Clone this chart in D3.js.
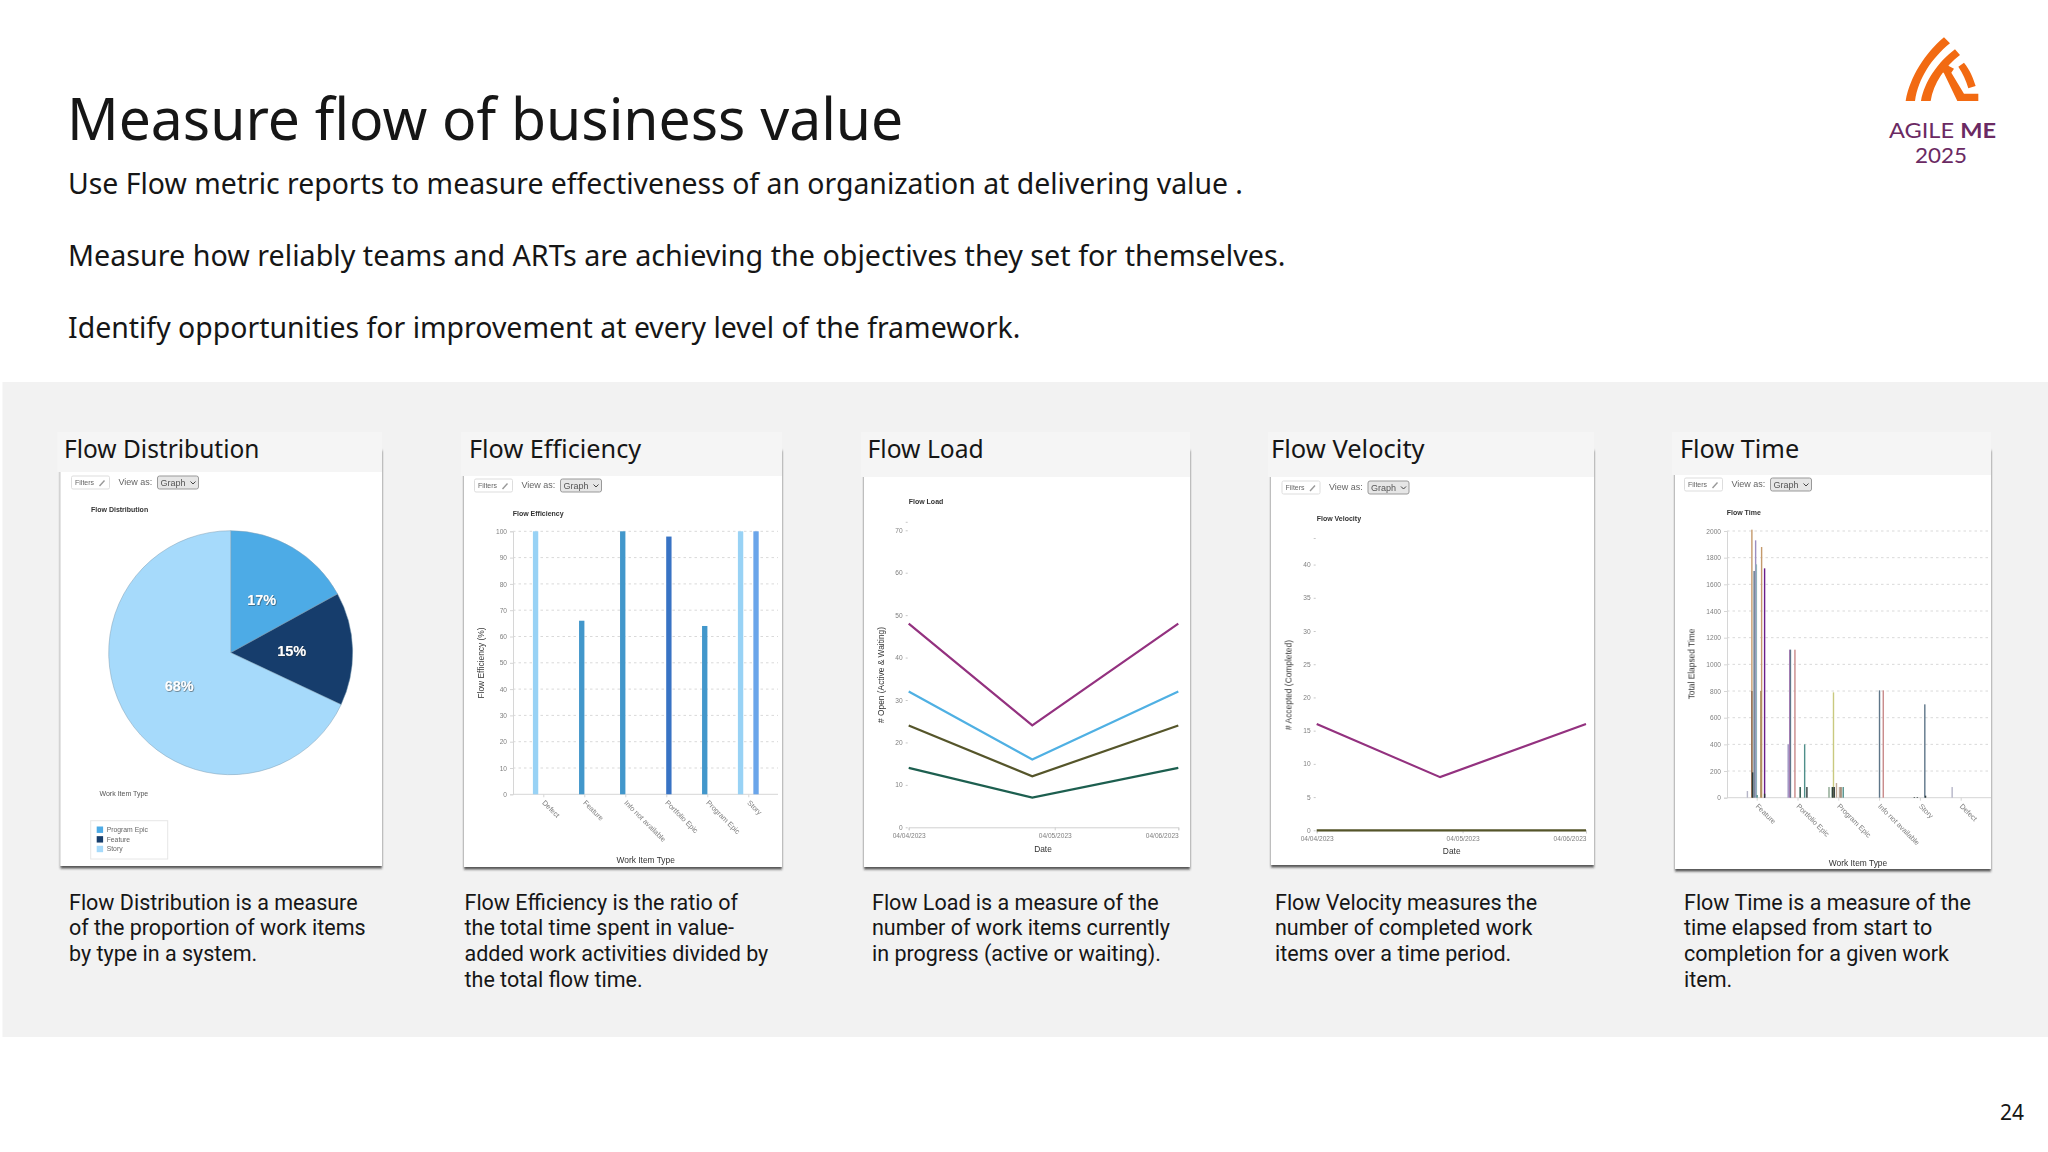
<!DOCTYPE html>
<html>
<head>
<meta charset="utf-8">
<title>Measure flow of business value</title>
<script src="https://cdn.jsdelivr.net/npm/d3@7"></script>
<style>
  html, body { margin: 0; padding: 0; background: #fff; }
  svg { display: block; }
  text { font-family: "Noto Sans", sans-serif; fill: #161616; }
  .card-text { font-family: Roboto, sans-serif; }
  .logo-text { font-family: Lato, sans-serif; }
  .shot text { font-family: "Liberation Sans", Arial, sans-serif; }
  .tick-label { font-size: 6.6px; fill: #808080; }
  .cat-label { font-size: 7.3px; fill: #808080; }
  .axis-title { font-size: 8.4px; fill: #333; }
  .chart-title { font-size: 7px; font-weight: bold; fill: #333; }
</style>
</head>
<body>
<svg id="slide" width="2048" height="1152"></svg>
<script>
// slide text
const slideTitle = 'Measure flow of business value';
const introLines = [
  'Use Flow metric reports to measure effectiveness of an organization at delivering value .',
  'Measure how reliably teams and ARTs are achieving the objectives they set for themselves.',
  'Identify opportunities for improvement at every level of the framework.'
];
const introSqueeze = [0.9625, 0.973, 0.964];
const cardNames = ['Flow Distribution', 'Flow Efficiency', 'Flow Load', 'Flow Velocity', 'Flow Time'];
const cardTexts = [
  ['Flow Distribution is a measure', 'of the proportion of work items', 'by type in a system.'],
  ['Flow Efficiency is the ratio of', 'the total time spent in value-', 'added work activities divided by', 'the total flow time.'],
  ['Flow Load is a measure of the', 'number of work items currently', 'in progress (active or waiting).'],
  ['Flow Velocity measures the', 'number of completed work', 'items over a time period.'],
  ['Flow Time is a measure of the', 'time elapsed from start to', 'completion for a given work', 'item.']
];

// flow distribution
const pieTypes = ['Program Epic', 'Feature', 'Story'];
const pieValues = [17, 15, 68];
const pieColors = ['#4dabe6', '#163e6c', '#a6dafb'];

// flow efficiency, one row per series, one value per work item type
const effCategories = ['Defect', 'Feature', 'Info not available', 'Portfolio Epic', 'Program Epic', 'Story'];
const effTicks = d3.range(0, 101, 10);
const effSeriesA = [100, null, null, null, null, 100];
const effSeriesB = [null, 66, 100, null, 64, null];
const effSeriesC = [null, null, null, 98, null, null];
const effSeriesD = [null, null, null, null, null, 100];
const effColors = ['#98d2f5', '#4397cb', '#3873c4', '#6ba5ea'];

// flow load and velocity
const flowDates = ['2023-04-04T00:00', '2023-04-04T22:00', '2023-04-06T00:00'];
const dateTicks = ['2023-04-04T00:00', '2023-04-05T02:00', '2023-04-06T00:00'];
const loadPurple = [48, 24, 48];
const loadBlue = [32, 16, 32];
const loadOlive = [24, 12, 24];
const loadGreen = [14, 7, 14];
const loadTicks = d3.range(0, 71, 10);
const velocityPurple = [16, 8, 16];
const velocityOlive = [0, 0, 0];
const velocityTicks = d3.range(0, 41, 5);

// flow time, long form: work item type, series slot inside the group, hours, tone
const timeCategories = ['Feature', 'Portfolio Epic', 'Program Epic', 'Info not available', 'Story', 'Defect'];
const timeTicks = d3.range(0, 2001, 200);
const timeCat = [0,0,0,0,0,0,0,0,0,0,0,0, 1,1,1,1,1,1,1, 2,2,2,2,2,2,2,2,2, 3,3, 4,4,4,4, 5];
const timeSlot = [0,6,6,7,9,11,12,13,18,19,23,23, 0,2,3,9,16,22,25, 0,4,5,6,7,10,14,16,19, 13,18, 5,9,19,20, 1];
const timeValue = [50,2010,800,190,1700,1930,1750,20,800,1880,1720,30, 400,1110,1110,1110,80,400,80, 80,80,80,790,80,110,80,80,80, 805,805, 5,5,700,15, 80];
const timeTone = [0,1,2,3,4,5,6,7,8,1,9,3, 5,10,4,11,15,7,3, 13,13,3,12,3,14,14,2,7, 4,11, 3,3,4,3, 0];
const timePalette = ['#b5b5c8','#c49a6c','#8c6b52','#2f3b3b','#5f7689','#9c8fc0','#8fb3bb','#4f8f8a','#a68a55','#6a1f8a','#b97fc0','#c98a8a','#c9c97f','#8aa58f','#c0aa98','#1f4f3f'];

const svg = d3.select('#slide');

const defs = svg.append('defs');
const shadow = defs.append('filter').attr('id', 'cardShadow')
  .attr('x', '-5%').attr('y', '-5%').attr('width', '110%').attr('height', '110%');
shadow.append('feDropShadow').attr('dx', 0).attr('dy', 2.5).attr('stdDeviation', 1.3)
  .attr('flood-color', '#222').attr('flood-opacity', 0.75);
const labelShadow = defs.append('filter').attr('id', 'labelShadow');
labelShadow.append('feDropShadow').attr('dx', 0.6).attr('dy', 0.6).attr('stdDeviation', 0.5)
  .attr('flood-color', '#333').attr('flood-opacity', 0.8);
// the charts on the slide are soft screenshots
defs.append('filter').attr('id', 'soft')
  .attr('filterUnits', 'userSpaceOnUse')
  .attr('x', 0).attr('y', 0).attr('width', 2048).attr('height', 1152)
  .append('feGaussianBlur').attr('stdDeviation', 0.3);

// squeeze a text horizontally to the width the slide font gives it
function squeeze(sel, ratio) {
  sel.each(function (d, i) {
    const r = Array.isArray(ratio) ? ratio[i] : ratio;
    this.setAttribute('textLength', this.getComputedTextLength() * r);
    this.setAttribute('lengthAdjust', 'spacingAndGlyphs');
  });
}

// background panel
svg.append('rect').attr('x', 2.5).attr('y', 382).attr('width', 2046).attr('height', 655).attr('fill', '#f2f2f2');

// heading block
svg.append('text').attr('x', 67).attr('y', 139.5).attr('font-size', 58).text(slideTitle)
  .call(squeeze, 0.983);
svg.selectAll('.intro').data(introLines).join('text')
  .attr('class', 'intro')
  .attr('x', 68)
  .attr('y', (d, i) => 194 + i * 72)
  .attr('font-size', 29.5)
  .text(d => d)
  .call(squeeze, introSqueeze);

svg.append('text').attr('x', 2024).attr('y', 1120).attr('text-anchor', 'end').attr('font-size', 21).text('24');

drawLogo();

// one card per metric
const cardLeft = [60.5, 464, 864, 1271, 1675];
const cardRight = [382, 782, 1190, 1594, 1991];
const cardBottom = [866, 867, 867, 865, 869];
const cardWhite = [472, 476, 477, 477, 475];
const headingX = [64, 469, 867.5, 1271, 1680];
const headingSqueeze = [0.96, 0.99, 0.967, 1, 0.99];
const textX = [69, 464.5, 872, 1275, 1684];

cardNames.forEach((name, i) => {
  svg.append('rect')
    .attr('x', cardLeft[i]).attr('y', 448)
    .attr('width', cardRight[i] - cardLeft[i]).attr('height', cardBottom[i] - 448)
    .attr('fill', '#fff').attr('filter', 'url(#cardShadow)');
  svg.append('rect')
    .attr('x', cardLeft[i] - 3).attr('y', 432)
    .attr('width', cardRight[i] - cardLeft[i] + 3).attr('height', cardWhite[i] - 432)
    .attr('fill', '#f5f5f5');
  svg.append('text').attr('x', headingX[i]).attr('y', 457.5).attr('font-size', 25.5).text(name)
    .call(squeeze, headingSqueeze[i]);

  svg.append('g').selectAll('text').data(cardTexts[i]).join('text')
    .attr('class', 'card-text')
    .attr('x', textX[i])
    .attr('y', (d, k) => 909.5 + k * 25.7)
    .attr('font-size', 21.5)
    .text(d => d);
});

const shot = svg.append('g').attr('class', 'shot').attr('filter', 'url(#soft)');

function toolbar(x, y) {
  const g = shot.append('g').attr('transform', `translate(${x},${y})`);
  g.append('rect').attr('width', 38).attr('height', 13).attr('rx', 1.5)
    .attr('fill', '#fff').attr('stroke', '#ddd');
  g.append('text').attr('x', 3.5).attr('y', 9.3).attr('font-size', 7).style('fill', '#666').text('Filters');
  g.append('path').attr('d', 'M28,10 L33,4.5').attr('stroke', '#999').attr('stroke-width', 1.4);
  g.append('text').attr('x', 47).attr('y', 8.8).attr('font-size', 9).style('fill', '#666').text('View as:');
  g.append('rect').attr('x', 86).attr('width', 41).attr('height', 13).attr('rx', 2)
    .attr('fill', '#e6e6e6').attr('stroke', '#999');
  g.append('text').attr('x', 89).attr('y', 9.5).attr('font-size', 9).style('fill', '#555').text('Graph');
  g.append('path').attr('d', 'M119,5.5 L121.5,8 L124,5.5').attr('fill', 'none').attr('stroke', '#444');
}

function chartTitle(text, x, y) {
  shot.append('text').attr('class', 'chart-title').attr('x', x).attr('y', y).text(text);
}

function yTitle(text, x, y) {
  shot.append('text').attr('class', 'axis-title')
    .attr('text-anchor', 'middle')
    .attr('transform', `translate(${x},${y}) rotate(-90)`)
    .text(text);
}

function xTitle(text, x, y) {
  shot.append('text').attr('class', 'axis-title').attr('text-anchor', 'middle').attr('x', x).attr('y', y).text(text);
}

function styleAxis(g, lineColor, labelClass) {
  g.selectAll('.tick text').attr('class', labelClass);
  g.selectAll('line').attr('stroke', lineColor);
  g.selectAll('.domain').attr('stroke', lineColor);
}

drawDistribution();
drawEfficiency();
drawTimeLines(1);
drawTimeLines(2);
drawFlowTime();

function drawDistribution() {
  toolbar(71.5, 476);
  chartTitle('Flow Distribution', 91, 511.5);

  const pie = d3.pie().sort(null)(pieValues);
  const arc = d3.arc().innerRadius(0).outerRadius(122);
  const labelArc = d3.arc().innerRadius(61).outerRadius(61);
  const g = shot.append('g').attr('transform', 'translate(230.7,652.7)');
  g.selectAll('path').data(pie).join('path')
    .attr('d', arc)
    .attr('fill', (d, i) => pieColors[i])
    .attr('stroke', '#7f9fb5')
    .attr('stroke-width', 0.5);
  g.selectAll('text').data(pie).join('text')
    .attr('transform', d => `translate(${labelArc.centroid(d)})`)
    .attr('text-anchor', 'middle')
    .attr('dy', '0.36em')
    .attr('font-size', 14.5)
    .attr('font-weight', 'bold')
    .attr('filter', 'url(#labelShadow)')
    .style('fill', '#fff')
    .text(d => d.data + '%');

  shot.append('text').attr('x', 99.5).attr('y', 795.5).attr('font-size', 7).style('fill', '#555').text('Work Item Type');
  shot.append('rect').attr('x', 90.7).attr('y', 820.7).attr('width', 77).attr('height', 38.3)
    .attr('fill', '#fff').attr('stroke', '#e6e6e6');
  const legendY = d3.scalePoint().domain(pieTypes).range([829.7, 849]);
  shot.selectAll('.swatch').data(pieTypes).join('rect')
    .attr('class', 'swatch')
    .attr('x', 96.7).attr('y', d => legendY(d) - 3.2)
    .attr('width', 6.4).attr('height', 6.4)
    .attr('fill', (d, i) => pieColors[i]);
  shot.selectAll('.legend-label').data(pieTypes).join('text')
    .attr('class', 'legend-label')
    .attr('x', 106.7).attr('y', d => legendY(d) + 2.4)
    .attr('font-size', 6.8)
    .style('fill', '#666')
    .text(d => d);
}

function drawEfficiency() {
  toolbar(474.5, 479);
  chartTitle('Flow Efficiency', 512.7, 516);
  yTitle('Flow Efficiency (%)', 484, 663);
  xTitle('Work Item Type', 645.7, 862.7);

  const x = d3.scalePoint().domain(effCategories).range([543.3, 748.3]);
  const y = d3.scaleLinear().domain([0, 100]).range([794.3, 531.3]);
  const rows = [effSeriesA, effSeriesB, effSeriesC, effSeriesD];
  const inner = d3.scaleBand().domain(d3.range(rows.length)).range([-10.3, 10.3]);

  drawGrid(effTicks, y, 513, 778);
  drawCategoryAxes(x, y, effTicks, 513, 778);

  rows.forEach((row, s) => {
    shot.append('g').selectAll('rect')
      .data(row.map((v, c) => ({ v, c })).filter(d => d.v !== null))
      .join('rect')
      .attr('x', d => x(effCategories[d.c]) + inner(s) - 0.1)
      .attr('y', d => y(d.v))
      .attr('width', inner.bandwidth() + 0.2)
      .attr('height', d => y(0) - y(d.v))
      .attr('fill', effColors[s]);
  });
}

function drawGrid(ticks, y, x0, x1) {
  shot.append('g').selectAll('line').data(ticks.slice(1)).join('line')
    .attr('x1', x0).attr('x2', x1)
    .attr('y1', d => y(d)).attr('y2', d => y(d))
    .attr('stroke', '#d9d9d9')
    .attr('stroke-dasharray', '2.5,3');
}

function drawCategoryAxes(x, y, ticks, x0, x1) {
  const yAxis = shot.append('g').attr('transform', `translate(${x0},0)`)
    .call(d3.axisLeft(y).tickValues(ticks).tickSize(3).tickFormat(d3.format('d')));
  styleAxis(yAxis, '#d6d6d6', 'tick-label');
  const xAxis = shot.append('g').attr('transform', `translate(0,${y.range()[0]})`)
    .call(d3.axisBottom(x).tickSize(3));
  styleAxis(xAxis, '#d6d6d6', 'cat-label');
  xAxis.selectAll('.domain').attr('d', `M${x0},0 H${x1}`);
  xAxis.selectAll('.tick text')
    .attr('text-anchor', 'start')
    .attr('x', 0).attr('y', 0).attr('dy', 0)
    .attr('transform', 'translate(-2,9) rotate(45)');
}

function drawTimeLines(which) {
  const isLoad = which === 1;
  const left = isLoad ? 908.7 : 1316.7;
  const right = isLoad ? 1178.3 : 1586;
  const bottom = isLoad ? 827.3 : 830.3;
  const top = isLoad ? 521.8 : 538;
  const maxY = isLoad ? 72 : 44;
  const ticks = isLoad ? loadTicks : velocityTicks;
  const rows = isLoad ? [loadGreen, loadOlive, loadBlue, loadPurple] : [velocityPurple, velocityOlive];
  const colors = isLoad ? ['#1f5f50', '#55552a', '#4fb0e3', '#93307f'] : ['#93307f', '#55552a'];

  if (isLoad) {
    chartTitle('Flow Load', 908.7, 503.7);
    yTitle('# Open (Active & Waiting)', 883.5, 675);
    xTitle('Date', 1043, 852);
  } else {
    toolbar(1282, 481);
    chartTitle('Flow Velocity', 1316.7, 520.7);
    yTitle('# Accepted (Completed)', 1291.5, 685);
    xTitle('Date', 1451.7, 854);
  }

  const dates = flowDates.map(d => new Date(d));
  const x = d3.scaleTime().domain([dates[0], dates[2]]).range([left, right]);
  const y = d3.scaleLinear().domain([0, maxY]).range([bottom, top]);

  const yAxis = shot.append('g').attr('transform', `translate(${left - 1},0)`)
    .call(d3.axisLeft(y).tickValues(ticks.concat([maxY])).tickSize(2).tickFormat(d => d === maxY ? '' : d));
  styleAxis(yAxis, '#c8c8c8', 'tick-label');
  yAxis.selectAll('.domain').remove();

  const xAxis = shot.append('g').attr('transform', `translate(0,${bottom})`)
    .call(d3.axisBottom(x)
      .tickValues(dateTicks.map(d => new Date(d)))
      .tickSize(3)
      .tickFormat(d3.timeFormat('%m/%d/%Y')));
  styleAxis(xAxis, '#d0d0d0', 'tick-label');
  xAxis.selectAll('.tick text').attr('y', 6).attr('text-anchor', (d, i) => i === 2 ? 'end' : 'middle');

  const line = d3.line().x((d, i) => x(dates[i])).y(d => y(d));
  shot.append('g').selectAll('path').data(rows).join('path')
    .attr('d', line)
    .attr('fill', 'none')
    .attr('stroke', (d, i) => colors[i])
    .attr('stroke-width', 2.2);
}

function drawFlowTime() {
  toolbar(1684.5, 478);
  chartTitle('Flow Time', 1726.7, 514.7);
  yTitle('Total Elapsed Time', 1694.5, 664);
  xTitle('Work Item Type', 1858, 866);

  const x = d3.scalePoint().domain(timeCategories).range([1756.7, 1960.7]);
  const y = d3.scaleLinear().domain([0, 2000]).range([797.7, 531]);
  const inner = d3.scaleLinear().domain([0, 25]).range([-9.3, 9.4]);

  drawGrid(timeTicks, y, 1727, 1991);
  drawCategoryAxes(x, y, timeTicks, 1727, 1991);

  const bars = timeValue.map((v, i) => ({ v, c: timeCat[i], s: timeSlot[i], t: timeTone[i] }))
    .sort((a, b) => b.v - a.v);
  shot.append('g').selectAll('rect').data(bars).join('rect')
    .attr('x', d => x(timeCategories[d.c]) + inner(d.s) - 0.7)
    .attr('y', d => y(d.v))
    .attr('width', 1.4)
    .attr('height', d => y(0) - y(d.v))
    .attr('fill', d => timePalette[d.t]);
}

function drawLogo() {
  const g = svg.append('g').attr('transform', 'translate(1860,20) scale(0.3333)').attr('fill', '#f26a12');
  g.append('path').attr('d', 'M137,243 C150,170 195,100 252,52 L270,70 C215,115 175,175 165,243 Z');
  g.append('path').attr('d', 'M183,243 C193,185 235,125 285,88 L300,105 C255,140 220,190 212,243 Z');
  g.append('path').attr('d', 'M248,128 L282,146 L274,158 L312,221 L355,221 L355,243 L292,243 L252,160 L240,148 Z');
  g.append('path').attr('d', 'M295,140 L312,128 C330,150 340,175 347,198 L325,205 C318,180 308,160 295,140 Z');
  const label = svg.append('text').attr('class', 'logo-text').attr('x', 1889).attr('y', 137.5)
    .attr('font-size', 21).attr('textLength', 107).attr('lengthAdjust', 'spacingAndGlyphs');
  label.append('tspan').style('fill', '#6b2a63').text('AGILE ');
  label.append('tspan').style('fill', '#6b2a63').attr('font-weight', 'bold').text('ME');
  svg.append('text').attr('class', 'logo-text').attr('x', 1915).attr('y', 163).attr('font-size', 21)
    .attr('textLength', 52).attr('lengthAdjust', 'spacingAndGlyphs')
    .style('fill', '#6b2a63').text('2025');
}
</script>
</body>
</html>
